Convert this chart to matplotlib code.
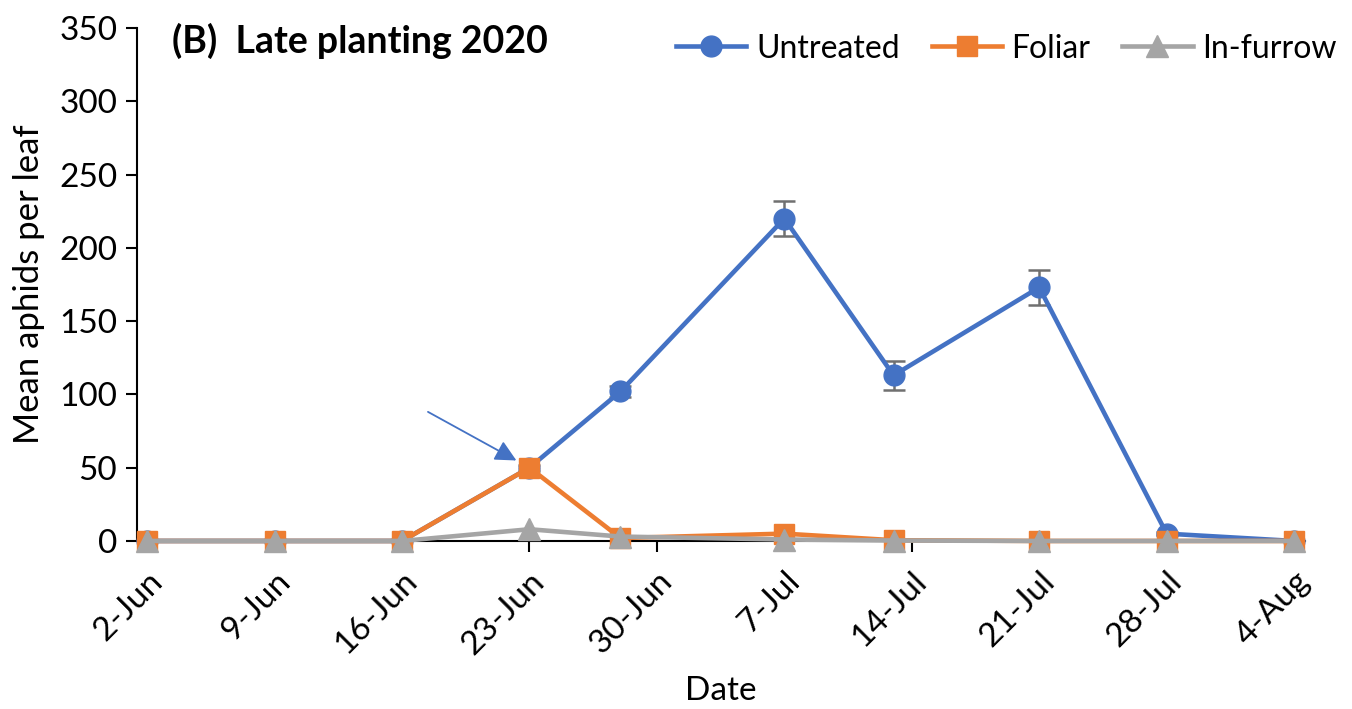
import numpy as np
import pandas as pd
import matplotlib
matplotlib.use("Agg")
import matplotlib.pyplot as plt
from matplotlib.lines import Line2D

# Données (B) Late planting 2020
dates = pd.to_datetime(["2020-06-02", "2020-06-09", "2020-06-16", "2020-06-23", "2020-06-28",
                        "2020-07-07", "2020-07-13", "2020-07-21", "2020-07-28", "2020-08-04"])
untreated = [0, 0, 0, 50, 102, 220, 113, 173, 5, 0]
untreated_err = [0, 0, 0, 2, 4, 12, 10, 12, 1, 0]
foliar = [0, 0, 0, 50, 2, 5, 0.5, 0, 0, 0]
infurrow = [0, 0, 0, 8, 3, 1, 0.3, 0, 0, 0]

tick_dates = pd.date_range("2020-06-02", "2020-08-04", freq="7D")
tick_labels = [d.strftime("%-d-%b") for d in tick_dates]

plt.rcParams["font.family"] = ["Lato", "DejaVu Sans"]

fig = plt.figure(figsize=(13.52, 7.09), dpi=100)
ax = fig.add_axes([0.101, 0.237, 0.864, 0.7235])

blue = "#4472C4"
orange = "#ED7D31"
gray = "#A5A5A5"

eb = ax.errorbar(dates, untreated, yerr=untreated_err, color=blue, lw=3.3, marker="o", ms=15,
                 ecolor="#707070", elinewidth=1.8, capsize=8, capthick=1.8, zorder=3)
for art in eb.lines[0:1]:
    art.set_clip_on(False)
ax.plot(dates, foliar, color=orange, lw=3.3, marker="s", ms=15, zorder=4, clip_on=False)
ax.plot(dates, infurrow, color=gray, lw=3.3, marker="^", ms=16, zorder=5, clip_on=False)

# Flèche vers la date du traitement foliaire
ax.annotate("", xy=(pd.Timestamp("2020-06-22 10:00"), 54), xytext=(pd.Timestamp("2020-06-17 07:00"), 89),
            arrowprops=dict(arrowstyle="-|>", color=blue, lw=1.3, mutation_scale=32), zorder=6)

ax.set_xlim(pd.Timestamp("2020-06-01 10:00"), pd.Timestamp("2020-08-04 14:00"))
ax.set_ylim(0, 350)
ax.set_yticks(np.arange(0, 351, 50))
ax.set_xticks(tick_dates)
ax.set_xticklabels(tick_labels, rotation=45, ha="right", rotation_mode="anchor")

for s in ["top", "right"]:
    ax.spines[s].set_visible(False)
ax.spines["left"].set_linewidth(1.5)
ax.spines["bottom"].set_linewidth(1.5)
ax.tick_params(axis="both", direction="out", length=8, width=1.5, labelsize=24, pad=6)
ax.tick_params(axis="x", pad=10)

ax.set_ylabel("Mean aphids per leaf", fontsize=25, labelpad=10)
ax.set_xlabel("Date", fontsize=24, labelpad=12)

ax.text(0.03, 0.975, "(B)  Late planting 2020", transform=ax.transAxes, fontsize=27,
        fontweight="bold", va="center", ha="left")

handles = [
    Line2D([], [], color=blue, lw=3.3, marker="o", ms=15),
    Line2D([], [], color=orange, lw=3.3, marker="s", ms=15),
    Line2D([], [], color=gray, lw=3.3, marker="^", ms=16),
]
ax.legend(handles, ["Untreated", "Foliar", "In-furrow"], loc="upper right",
          bbox_to_anchor=(1.052, 1.045), ncol=3, frameon=False, fontsize=23,
          handlelength=2.2, columnspacing=1.0, handletextpad=0.3)

fig.savefig("out.png", dpi=100)
